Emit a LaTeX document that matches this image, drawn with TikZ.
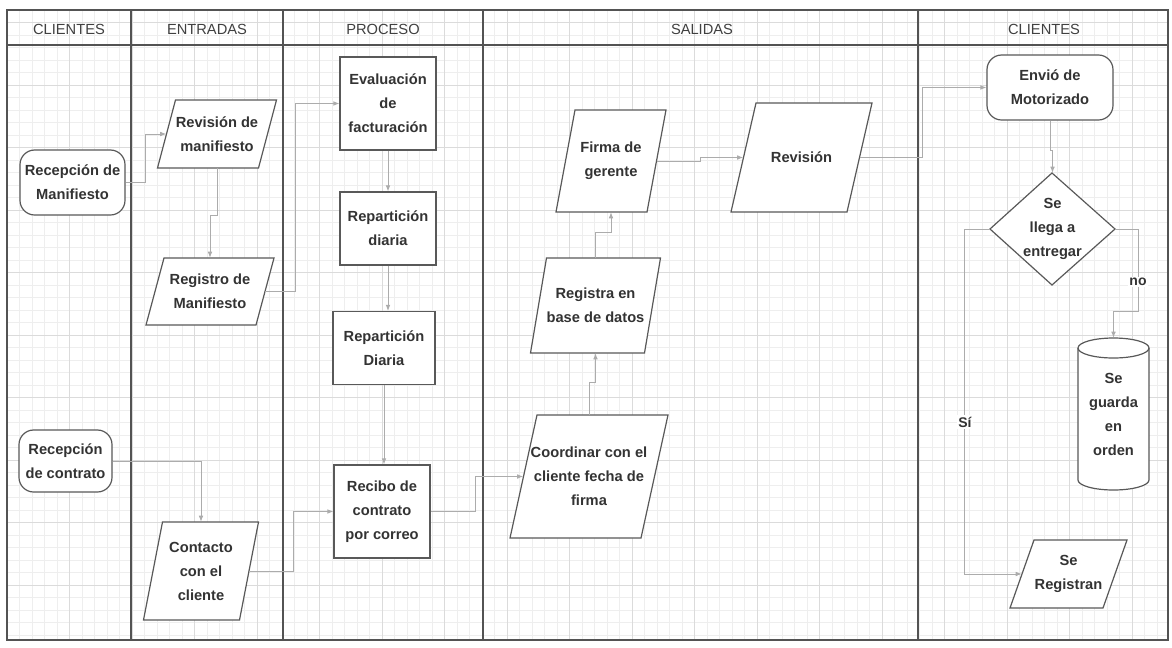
\documentclass[tikz,border=0pt]{standalone}
\usepackage{fontspec}
\setmainfont{Liberation Sans}
\usetikzlibrary{arrows.meta,calc}

% parallelogram: name, cx, cy, body width, height, slant, text
\newcommand\parashape[7]{%
  \draw[shapeline] ({#2-#4/2+#6/2},{#3-#5/2}) -- ({#2+#4/2+#6/2},{#3-#5/2})
    -- ({#2+#4/2-#6/2},{#3+#5/2}) -- ({#2-#4/2-#6/2},{#3+#5/2}) -- cycle;
  \node[ptext, minimum width=#4*0.75pt, minimum height=#5*0.75pt] (#1) at (#2,#3) {#7};}

\begin{document}
\begin{tikzpicture}[x=0.75pt,y=-0.75pt,
  txt/.style={text=black!80, font=\bfseries\fontsize{11}{18}\selectfont, align=center},
  shapeline/.style={draw=gray!70!black, line width=0.9pt, fill=white},
  box/.style={txt, shapeline, inner sep=1pt},
  term/.style={box, rounded corners=11pt},
  ptext/.style={txt, inner sep=0pt},
  flow/.style={draw=gray!65, line width=0.7pt, -{Latex[length=4.5pt,width=3.5pt]}},
  lane/.style={draw=gray!65!black, line width=0.9pt},
  minor/.style={draw=gray!13, line width=0.4pt},
  major/.style={draw=gray!28, line width=0.5pt},
  head/.style={font=\fontsize{11}{13}\selectfont, text=black!75},
  lbl/.style={font=\bfseries\fontsize{10.5}{12}\selectfont, text=black!80, fill=white, inner sep=1pt}
]
\fill[white] (0,0) rectangle (1172,647);
\useasboundingbox (0,0) rectangle (1172,647);

% background grid
\foreach \i in {0,...,92} \draw[minor] ({7+12.5*\i},10) -- ({7+12.5*\i},640);
\foreach \i in {0,...,50} \draw[minor] (7,{10+12.5*\i}) -- (1168,{10+12.5*\i});
\foreach \i in {0,...,18} \draw[major] ({7+62.5*\i},10) -- ({7+62.5*\i},640);
\foreach \i in {0,...,9} \draw[major] (7,{22.5+62.5*\i}) -- (1168,{22.5+62.5*\i});

% swimlanes
\draw[lane] (7,10) rectangle (1168,640);
\draw[lane] (7,45) -- (1168,45);
\foreach \x in {131,283,483,918} \draw[lane] (\x,10) -- (\x,640);

\node[head] (h1) at (69,29) {CLIENTES};
\node[head] (h2) at (207,29) {ENTRADAS};
\node[head] (h3) at (383,29) {PROCESO};
\node[head] (h4) at (702,29) {SALIDAS};
\node[head] (h5) at (1044,29) {CLIENTES};

% clients (left)
\node[term, minimum width=78.75pt, minimum height=48.75pt] (RM) at (72.5,182.5) {Recepción de\\Manifiesto};
\node[term, minimum width=69.75pt, minimum height=46.5pt] (RC) at (65.5,461) {Recepción\\de contrato};

% inputs
\parashape{RevM}{217}{134}{101}{68}{18}{Revisión de\\manifiesto}
\parashape{RegM}{210}{291.5}{110}{67}{18}{Registro de\\Manifiesto}
\parashape{Cont}{201}{571}{96}{98}{19}{Contacto\\con el\\cliente}

% process
\node[box, minimum width=72pt, minimum height=69.75pt] (Eval) at (388,103.5) {Evaluación\\de\\facturación};
\node[box, minimum width=72pt, minimum height=54.75pt] (Rep1) at (388,228.5) {Repartición\\diaria};
\node[box, minimum width=76.5pt, minimum height=54.75pt] (Rep2) at (384,348) {Repartición\\Diaria};
\node[box, minimum width=72pt, minimum height=69.75pt] (Reci) at (382,511.5) {Recibo de\\contrato\\por correo};

% outputs
\parashape{Coord}{589}{476.5}{131}{123}{27}{Coordinar con el\\cliente fecha de\\firma}
\parashape{Regi}{595.5}{305.5}{114}{95}{16}{Registra en\\base de datos}
\parashape{Firma}{611}{161}{91}{102}{19}{Firma de\\gerente}
\parashape{Rev}{801.5}{157.5}{116}{109}{25}{Revisión}

% clients (right)
\node[term, minimum width=94.5pt, minimum height=48.75pt] (Env) at (1050,87.5) {Envió de\\Motorizado};
\draw[shapeline] (1052,173) -- (1115,229) -- (1052,285) -- (990,229) -- cycle;
\node[ptext, minimum width=93.75pt, minimum height=84pt] (Dec) at (1052.5,229) {Se\\llega a\\entregar};
\draw[shapeline] (1078,348) -- (1078,480) arc[start angle=180, end angle=0, x radius=35.5, y radius=10]
  -- (1149,348) arc[start angle=0, end angle=-180, x radius=35.5, y radius=10] -- cycle;
\draw[shapeline, fill=none] (1078,348) arc[start angle=180, end angle=0, x radius=35.5, y radius=10];
\node[ptext, minimum width=53.25pt, minimum height=114pt] (Cyl) at (1113.5,414) {Se\\guarda\\en\\orden};
\parashape{SReg}{1068.5}{574}{93}{68}{24}{Se\\Registran}

% connectors
\draw[flow] (RM.east) -- ++(20,0) |- (RevM.west);
\draw[flow] (RevM.south) -- ++(0,47) -| (RegM.north);
\draw[flow] (RegM.east) -- ++(30,0) |- (Eval.west);
\draw[flow] (Eval.south) -- (Rep1.north);
\draw[flow] (Rep1.south) -- (Rep1.south |- Rep2.north);
\draw[flow] (Rep2.south) -- (Rep2.south |- Reci.north);
\draw[flow] (RC.east) -| (Cont.north);
\draw[flow] (Cont.east) -- ++(44,0) |- (Reci.west);
\draw[flow] (Reci.east) -- ++(45,0) |- (Coord.west);
\draw[flow] (Coord.north) -- ++(0,-32) -| (Regi.south);
\draw[flow] (Regi.north) -- ++(0,-25) -| (Firma.south);
\draw[flow] (Firma.east) -- ++(44,0) |- (Rev.west);
\draw[flow] (Rev.east) -- ++(63,0) |- (Env.west);
\draw[flow] (Env.south) -- ++(0,30) -| (Dec.north);
\draw[flow] (Dec.east) -- ++(23,0) -- ++(0,82) -| (Cyl.north);
\draw[flow] (Dec.west) -- ++(-25,0) |- (SReg.west);
\node[lbl] (no) at (1138,282) {no};
\node[lbl] (si) at (965,422) {Sí};
\end{tikzpicture}
\end{document}
